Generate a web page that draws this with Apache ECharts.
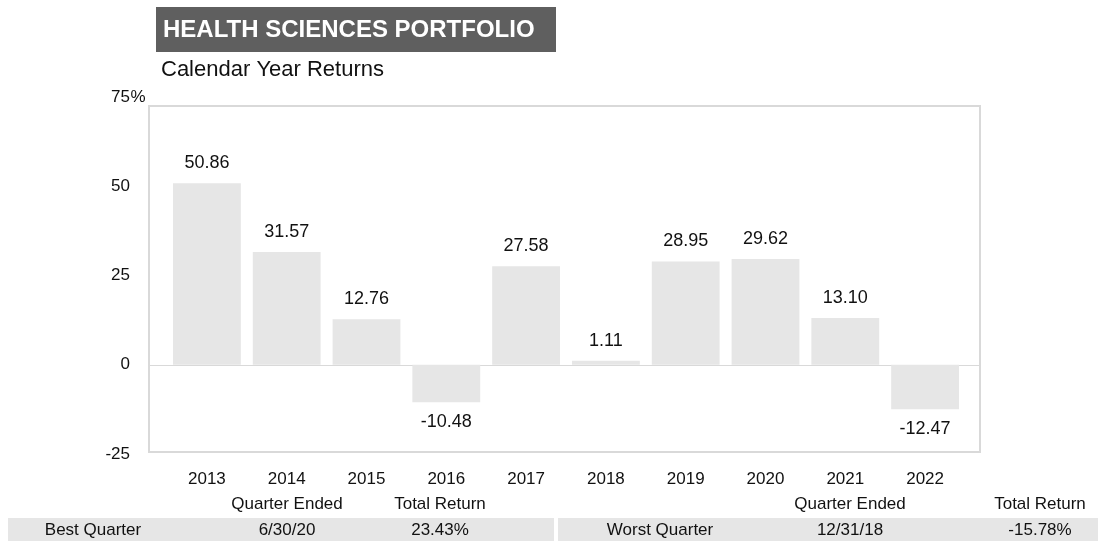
<!DOCTYPE html>
<html>
<head>
<meta charset="utf-8">
<style>
  html, body { margin: 0; padding: 0; background: #fff; }
  #chart { width: 1106px; height: 541px; }
</style>
<script src="https://cdn.jsdelivr.net/npm/echarts@6/dist/echarts.min.js"></script>
</head>
<body>
<div id="chart"></div>
<script>
const titleText = 'HEALTH SCIENCES PORTFOLIO';
const subtitleText = 'Calendar Year Returns';
const years = ['2013', '2014', '2015', '2016', '2017', '2018', '2019', '2020', '2021', '2022'];
const returns = [50.86, 31.57, 12.76, -10.48, 27.58, 1.11, 28.95, 29.62, 13.10, -12.47];
const yTicks = [-25, 0, 25, 50, 75];
const tableHeaders = ['Quarter Ended', 'Total Return'];
const bestQuarter = ['Best Quarter', '6/30/20', '23.43%'];
const worstQuarter = ['Worst Quarter', '12/31/18', '-15.78%'];

const FONT = '"Liberation Sans", Arial, Helvetica, sans-serif';
const chart = echarts.init(document.getElementById('chart'), null, { renderer: 'canvas' });

const barData = returns.map(v => ({
  value: v,
  label: { position: v < 0 ? 'bottom' : 'top' }
}));

function txt(x, y, s, align, opts) {
  return Object.assign({
    type: 'text', x: x, y: y,
    style: { text: s, font: '17px ' + FONT, fill: '#111', align: align || 'center', verticalAlign: 'middle' }
  }, opts || {});
}

const option = {
  animation: false,
  backgroundColor: '#fff',
  grid: [
    { left: 167, right: 141, top: 97, bottom: 87, containLabel: false },
    { left: 150, right: 126, top: 97, bottom: 87, containLabel: false }
  ],
  xAxis: [
    {
      type: 'category', data: years, gridIndex: 0,
      axisLine: { show: false }, axisTick: { show: false },
      axisLabel: { color: '#111', fontSize: 17, fontFamily: FONT, margin: 17 }
    },
    { type: 'value', gridIndex: 1, min: 0, max: 1, show: false }
  ],
  yAxis: [
    {
      type: 'value', gridIndex: 0, min: yTicks[0], max: yTicks[yTicks.length - 1], interval: 25,
      axisLine: { show: false }, axisTick: { show: false }, splitLine: { show: false },
      axisLabel: {
        margin: 21,
        formatter: v => v === yTicks[yTicks.length - 1] ? '{n|' + v + '}{p|%}' : '{n|' + v + '}{p|}',
        rich: {
          n: { color: '#111', fontSize: 17, fontFamily: FONT },
          p: { color: '#111', fontSize: 17, fontFamily: FONT, width: 16, align: 'left' }
        }
      }
    },
    {
      type: 'value', gridIndex: 1, min: yTicks[0], max: yTicks[yTicks.length - 1], interval: 25,
      axisLine: { show: false }, axisTick: { show: false }, axisLabel: { show: false },
      splitLine: { show: true, lineStyle: { width: 1, color: ['rgba(0,0,0,0)', '#d9d9d9', 'rgba(0,0,0,0)', 'rgba(0,0,0,0)', 'rgba(0,0,0,0)'] } }
    }
  ],
  series: [
    {
      type: 'bar', xAxisIndex: 0, yAxisIndex: 0,
      data: barData,
      barCategoryGap: '15%',
      itemStyle: { color: '#e6e6e6' },
      label: {
        show: true, distance: 11, color: '#111', fontSize: 18, fontFamily: FONT,
        formatter: p => p.value.toFixed(2)
      }
    }
  ],
  graphic: [
    { type: 'rect', z: -1, shape: { x: 149, y: 106, width: 831, height: 346 }, style: { fill: 'none', stroke: '#d9d9d9', lineWidth: 2 } },
    { type: 'rect', shape: { x: 156, y: 7, width: 400, height: 45 }, style: { fill: '#5f5f5f' } },
    { type: 'text', x: 163, y: 30, style: { text: titleText, font: 'bold 24px ' + FONT, fill: '#fff', align: 'left', verticalAlign: 'middle' } },
    { type: 'text', x: 161, y: 70, style: { text: subtitleText, font: '22px ' + FONT, fill: '#111', align: 'left', verticalAlign: 'middle' } },
    { type: 'rect', shape: { x: 8, y: 518, width: 546, height: 23 }, style: { fill: '#e6e6e6' } },
    { type: 'rect', shape: { x: 558, y: 518, width: 540, height: 23 }, style: { fill: '#e6e6e6' } },
    txt(287, 504, tableHeaders[0]),
    txt(440, 504, tableHeaders[1]),
    txt(850, 504, tableHeaders[0]),
    txt(1040, 504, tableHeaders[1]),
    txt(93, 530, bestQuarter[0]),
    txt(287, 530, bestQuarter[1]),
    txt(440, 530, bestQuarter[2]),
    txt(660, 530, worstQuarter[0]),
    txt(850, 530, worstQuarter[1]),
    txt(1040, 530, worstQuarter[2])
  ]
};
chart.setOption(option);
</script>
</body>
</html>
